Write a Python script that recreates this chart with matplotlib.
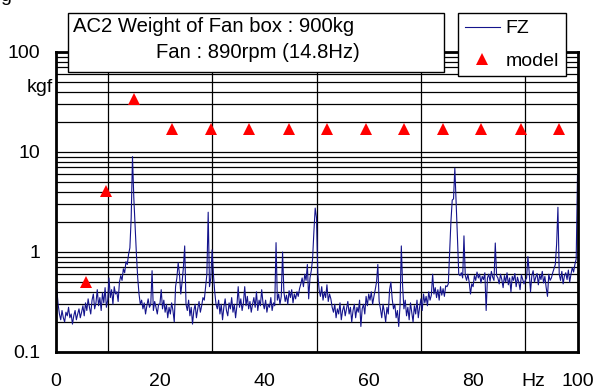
import matplotlib

matplotlib.use("Agg")
import matplotlib.pyplot as plt
import numpy as np
from matplotlib.lines import Line2D
from matplotlib.patches import Rectangle
from matplotlib.ticker import LogLocator, MultipleLocator, NullFormatter

plt.rcParams["font.family"] = ["Liberation Sans", "DejaVu Sans"]

# measured spectrum FZ, one value every 0.25 Hz from 0 to 100 Hz (kgf)
FREQ_STEP = 0.25
FZ = [
    # 0-5 Hz
    0.50, 0.42, 0.30, 0.24, 0.21, 0.26, 0.22, 0.20, 0.25, 0.23,
    0.28, 0.22, 0.24, 0.19, 0.23, 0.26, 0.21, 0.24, 0.27, 0.22,
    # 5-10
    0.25, 0.29, 0.23, 0.31, 0.26, 0.34, 0.28, 0.24, 0.33, 0.38,
    0.27, 0.31, 0.42, 0.29, 0.35, 0.26, 0.39, 0.31, 0.44, 0.28,
    # 10-15
    0.33, 0.55, 0.35, 0.42, 0.30, 0.45, 0.38, 0.40, 0.32, 0.50,
    0.58, 0.52, 0.68, 0.62, 0.80, 0.75, 0.95, 1.10, 2.20, 9.00,
    # 15-20
    3.50, 1.80, 0.95, 0.55, 0.38, 0.30, 0.33, 0.27, 0.31, 0.24,
    0.29, 0.34, 0.28, 0.30, 0.65, 0.26, 0.32, 0.28, 0.24, 0.30,
    # 20-25
    0.30, 0.42, 0.27, 0.33, 0.25, 0.30, 0.22, 0.28, 0.24, 0.31,
    0.26, 0.20, 0.45, 0.55, 0.78, 0.60, 0.38, 0.50, 0.70, 1.15,
    # 25-30
    0.30, 0.26, 0.33, 0.23, 0.28, 0.19, 0.26, 0.30, 0.22, 0.27,
    0.32, 0.25, 0.29, 0.35, 0.33, 0.45, 0.60, 2.50, 0.45, 0.55,
    # 30-35
    1.05, 0.60, 0.40, 0.30, 0.27, 0.33, 0.24, 0.30, 0.21, 0.28,
    0.34, 0.26, 0.23, 0.31, 0.27, 0.35, 0.25, 0.30, 0.22, 0.29,
    # 35-40
    0.45, 0.28, 0.34, 0.26, 0.31, 0.45, 0.29, 0.36, 0.27, 0.32,
    0.25, 0.30, 0.35, 0.28, 0.40, 0.26, 0.33, 0.29, 0.42, 0.31,
    # 40-45
    0.27, 0.33, 0.25, 0.30, 0.28, 0.35, 0.26, 0.31, 0.29, 1.24,
    0.33, 0.38, 0.30, 0.36, 1.00, 0.40, 0.32, 0.37, 0.30, 0.41,
    # 45-50
    0.35, 0.42, 0.31, 0.38, 0.34, 0.40, 0.36, 0.43, 0.48, 0.55,
    0.45, 0.60, 0.52, 0.75, 0.34, 0.55, 0.65, 0.85, 1.60, 2.75,
    # 50-55
    2.20, 0.60, 0.42, 0.36, 0.45, 0.33, 0.40, 0.35, 0.47, 0.32,
    0.38, 0.34, 0.28, 0.25, 0.30, 0.22, 0.27, 0.24, 0.31, 0.21,
    # 55-60
    0.26, 0.29, 0.23, 0.27, 0.32, 0.24, 0.28, 0.20, 0.26, 0.30,
    0.22, 0.28, 0.25, 0.33, 0.18, 0.27, 0.30, 0.24, 0.36, 0.29,
    # 60-65
    0.38, 0.33, 0.40, 0.30, 0.36, 0.42, 0.50, 0.75, 0.32, 0.27,
    0.22, 0.30, 0.25, 0.20, 0.28, 0.24, 0.42, 0.50, 0.34, 0.27,
    # 65-70
    0.30, 0.22, 0.26, 0.18, 0.29, 1.15, 0.45, 0.27, 0.33, 0.23,
    0.28, 0.21, 0.31, 0.25, 0.20, 0.29, 0.24, 0.33, 0.22, 0.28,
    # 70-75
    0.34, 0.26, 0.38, 0.31, 0.36, 0.29, 0.40, 0.33, 0.37, 0.60,
    0.38, 0.44, 0.35, 0.42, 0.33, 0.45, 0.37, 0.43, 0.36, 0.46,
    # 75-80
    0.45, 0.48, 1.00, 2.00, 3.30, 3.40, 6.90, 3.20, 1.40, 0.60,
    0.58, 0.62, 0.55, 1.45, 0.58, 0.52, 0.60, 0.50, 0.38, 0.48,
    # 80-85
    0.45, 0.58, 0.52, 0.63, 0.55, 0.60, 0.49, 0.57, 0.53, 0.62,
    0.26, 0.55, 0.60, 0.51, 0.64, 0.56, 0.52, 1.23, 0.58, 0.55,
    # 85-90
    0.48, 0.60, 0.53, 0.44, 0.58, 0.50, 0.62, 0.47, 0.55, 0.40,
    0.57, 0.52, 0.61, 0.45, 0.56, 0.50, 0.42, 0.59, 0.53, 0.48,
    # 90-95
    0.52, 0.55, 0.90, 0.62, 0.40, 0.58, 0.65, 0.50, 0.56, 0.61,
    0.47, 0.59, 0.53, 0.64, 0.49, 0.57, 0.44, 0.36, 0.60, 0.52,
    # 95-100
    0.55, 0.62, 0.68, 0.75, 1.20, 2.80, 0.60, 0.52, 0.64, 0.48,
    0.58, 0.62, 0.53, 0.66, 0.50, 0.60, 0.70, 0.63, 0.75, 0.85,
    6.00,
]

# model prediction (red triangles)
MODEL_HZ = [5.8, 9.6, 15.0, 22.3, 29.8, 37.1, 44.7, 52.0, 59.5, 66.8, 74.3, 81.6, 89.1, 96.5]
MODEL_KGF = [0.5, 4.1, 34, 17, 17, 17, 17, 17, 17, 17, 17, 17, 17, 17]

X_TICKS = [0, 20, 40, 60, 80, 91.5, 100]
X_TICK_LABELS = ["0", "20", "40", "60", "80", "Hz", "100"]
Y_TICKS = [0.1, 1, 10, 100]
Y_TICK_LABELS = ["0.1", "1", "10", "100"]

TITLE_LINE1 = "AC2 Weight of Fan box : 900kg"
TITLE_LINE2 = "Fan : 890rpm (14.8Hz)"

LINE_COLOR = "#14148c"
MODEL_COLOR = "#ff0000"
FONT_SIZE = 14

W, H = 596, 392


def main() -> None:
    freq = np.arange(len(FZ)) * FREQ_STEP

    fig = plt.figure(figsize=(W / 100, H / 100), dpi=100)
    ax = fig.add_axes([55.5 / W, 1 - 352 / H, 522 / W, 300 / H])

    ax.plot(freq, FZ, color=LINE_COLOR, linewidth=0.8, zorder=3)
    ax.plot(MODEL_HZ, MODEL_KGF, linestyle="none", marker="^", markersize=8,
            color=MODEL_COLOR, markeredgewidth=0, zorder=4)

    ax.set_yscale("log")
    ax.set_xlim(0, 100)
    ax.set_ylim(0.1, 100)

    ax.set_xticks(X_TICKS)
    ax.set_xticklabels(X_TICK_LABELS, fontsize=FONT_SIZE)
    ax.xaxis.set_minor_locator(MultipleLocator(10))
    ax.set_yticks(Y_TICKS)
    ax.set_yticklabels(Y_TICK_LABELS, fontsize=FONT_SIZE)
    ax.yaxis.set_minor_locator(LogLocator(base=10, subs=np.arange(2, 10)))
    ax.yaxis.set_minor_formatter(NullFormatter())
    ax.tick_params(axis="both", which="both", length=0)
    ax.tick_params(axis="x", pad=15)
    ax.tick_params(axis="y", pad=11)

    ax.grid(axis="x", which="minor", color="black", linewidth=0.9)
    ax.grid(axis="y", which="both", color="black", linewidth=0.9)
    ax.set_axisbelow(True)
    for spine in ax.spines.values():
        spine.set_linewidth(2)
        spine.set_zorder(5)

    ax.text(-0.5, 44, "kgf", ha="right", va="center", fontsize=FONT_SIZE, clip_on=False)

    # annotation box at the top
    box = Rectangle((68 / W, 1 - 72 / H), 376 / W, 59 / H, transform=fig.transFigure,
                    facecolor="white", edgecolor="black", linewidth=1, zorder=10)
    fig.add_artist(box)
    fig.text(73 / W, 1 - 27 / H, TITLE_LINE1, ha="left", va="center",
             fontsize=14.6, zorder=11)
    fig.text(360 / W, 1 - 52 / H, TITLE_LINE2, ha="right", va="center",
             fontsize=14.6, zorder=11)

    handles = [
        Line2D([], [], color=LINE_COLOR, linewidth=0.8, label="FZ"),
        Line2D([], [], color=MODEL_COLOR, marker="^", markersize=8,
               markeredgewidth=0, linestyle="none", label="model"),
    ]
    leg = fig.legend(handles=handles, loc="upper left", bbox_to_anchor=(458 / W, 1 - 13 / H),
                     fontsize=FONT_SIZE, frameon=True, fancybox=False, framealpha=1,
                     edgecolor="black", borderaxespad=0, borderpad=0.35, labelspacing=0.75,
                     handlelength=1.8, handletextpad=0.3)
    leg.get_frame().set_linewidth(1)
    leg.set_zorder(12)

    # clipped-off text at the very top-left corner
    fig.text(0.0, 1 - 1 / H, "g", ha="left", va="baseline", fontsize=FONT_SIZE)

    fig.savefig("out.png", dpi=100)
    plt.close(fig)


if __name__ == "__main__":
    main()
